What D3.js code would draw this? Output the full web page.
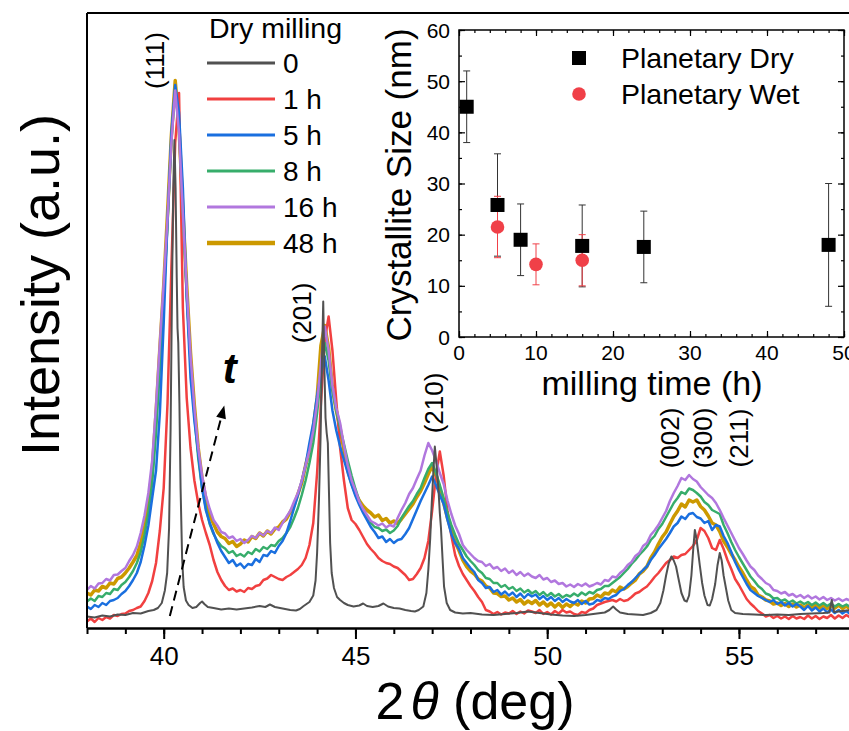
<!DOCTYPE html>
<html>
<head>
<meta charset="utf-8">
<script src="https://cdn.jsdelivr.net/npm/d3@7"></script>
<style>
  body { margin: 0; background: #fff; }
  svg { display: block; }
  text { font-family: "Liberation Sans", Arial, sans-serif; fill: #000; }
</style>
</head>
<body>
<svg id="chart" width="849" height="731"></svg>
<script>
// ---------- XRD patterns (2θ in degrees, intensity in arbitrary units) ----------
// Milled samples are sampled on a regular 0.1° grid starting at 38°.
const angleStart = 38;
const angleStep = 0.1;

// As-received powder: sharp reflections, listed as [2θ, intensity] pairs.
const pattern0h = [
  [38.0,2.3],[38.2,2.1],[38.4,2.5],[38.6,2.3],[38.8,2.7],[39.0,2.6],[39.2,3.0],[39.4,2.9],[39.6,3.4],[39.74,3.6],
  [39.85,4.0],[39.95,5.0],[40.03,7.5],[40.09,11],[40.14,20],[40.18,40],[40.22,70],[40.25,88],[40.28,97.6],[40.31,88],
  [40.34,70],[40.36,60],[40.38,57],[40.41,45],[40.44,28],[40.48,14],[40.52,8.2],[40.58,5.5],[40.65,4.6],[40.75,4.0],
  [40.85,4.2],[40.95,5.0],[41.0,5.3],[41.06,4.8],[41.15,4.2],[41.3,4.0],[41.5,3.7],[41.7,3.9],[41.9,3.7],[42.1,3.9],
  [42.3,4.1],[42.5,4.4],[42.65,4.2],[42.77,4.7],[42.9,4.2],[43.1,3.9],[43.3,3.6],[43.45,3.5],[43.55,3.8],[43.65,4.4],
  [43.8,5.2],[43.9,6.5],[43.96,9.5],[44.0,15],[44.05,26],[44.09,38],[44.13,55],[44.16,65.3],[44.19,52],[44.22,42],
  [44.25,39],[44.28,37],[44.31,27],[44.34,17],[44.38,11],[44.44,8],[44.52,6.2],[44.6,5.6],[44.7,5.0],[44.8,4.6],
  [44.95,4.3],[45.1,4.5],[45.2,4.9],[45.3,4.4],[45.45,4.2],[45.6,4.4],[45.73,4.9],[45.85,4.3],[46.0,4.0],[46.15,3.9],
  [46.3,3.6],[46.45,3.4],[46.55,3.3],[46.65,3.6],[46.77,4.3],[46.85,7],[46.9,11.6],[46.95,18],[46.99,25],[47.03,31],
  [47.07,36.3],[47.11,33],[47.16,28.3],[47.2,23],[47.23,20],[47.27,14],[47.31,8.3],[47.38,5.0],[47.47,3.6],[47.6,3.1],
  [47.8,2.9],[48.0,3.0],[48.3,2.7],[48.6,2.6],[48.9,2.8],[49.2,3.0],[49.5,3.3],[49.8,3.0],[50.1,2.7],[50.4,2.5],
  [50.7,2.4],[51.0,2.6],[51.3,2.9],[51.5,3.1],[51.62,3.6],[51.72,4.3],[51.8,3.7],[51.9,3.1],[52.1,2.8],[52.3,2.7],
  [52.5,2.6],[52.7,3.0],[52.85,3.6],[52.95,5.0],[53.03,7.5],[53.1,10.5],[53.17,13],[53.24,14.3],[53.3,13.5],[53.36,12.3],
  [53.42,10],[53.5,7],[53.58,5.5],[53.64,5.3],[53.7,6.5],[53.76,10.5],[53.81,16],[53.85,19.6],[53.89,18],[53.93,15.6],
  [53.98,12.5],[54.04,9.0],[54.1,6.5],[54.18,4.6],[54.24,4.5],[54.3,5.8],[54.38,8.8],[54.44,12.5],[54.5,15],[54.55,13.5],
  [54.6,10.5],[54.66,8.0],[54.72,5.5],[54.8,3.6],[54.9,3.0],[55.1,2.8],[55.4,2.7],[55.7,2.6],[56.0,2.7],[56.3,2.6],
  [56.6,2.8],[56.9,2.9],[57.2,3.0],[57.36,3.1],[57.42,5.6],[57.48,3.2],[57.6,3.3],[57.8,3.5],[58.0,3.6]
];

const pattern1h = [
  1.3,1.9,1.2,2.0,1.6,2.2,1.9,2.6,2.4,2.8, 2.9,3.4,3.6,4.0,4.3,5.4,7.0,9.4,13.0,19.5,
  28.0,45.0,72.0,97.0,107.0,64.0,46.0,36.0,29.5,25.0, 21.6,19.0,16.6,13.6,11.2,9.6,8.4,7.6,7.9,7.3,
  7.6,7.2,8.0,7.8,8.4,8.6,9.6,9.9,10.6,10.2, 9.8,9.6,10.2,10.6,11.2,11.8,12.6,14.0,16.6,21.0,
  31.0,45.0,57.6,62.3,55.5,45.5,36.0,29.5,24.0,21.6, 20.8,19.6,18.2,16.8,15.8,15.0,14.0,13.4,13.0,12.8,
  12.3,12.0,11.3,10.6,9.6,9.8,10.8,12.0,14.0,17.4, 23.5,30.5,35.3,30.5,23.5,18.5,14.6,12.4,10.8,9.6,
  8.4,7.4,6.2,5.2,3.6,3.3,2.8,3.2,2.7,3.1, 2.9,3.4,2.8,3.3,2.9,3.5,3.3,3.0,3.6,2.8,
  3.2,2.7,3.4,2.9,3.6,3.1,3.3,2.8,2.6,3.2, 3.0,3.6,3.9,4.6,4.9,5.2,5.4,5.6,5.3,5.8,
  5.4,5.6,6.2,6.9,7.2,7.8,8.3,9.2,10.2,11.0, 12.0,13.0,13.6,14.3,14.0,14.6,14.8,15.6,16.4,17.6,
  20.0,19.4,18.0,16.0,15.6,17.6,15.8,13.6,11.8,9.8, 8.6,7.2,5.8,4.9,4.2,3.4,2.9,2.3,2.6,2.0,
  2.4,1.9,2.3,1.8,2.4,1.9,2.2,1.8,2.5,1.9, 2.4,1.8,2.3,2.0,2.6,1.9,2.5,2.0,2.6,2.1,
  2.3
];

const pattern5h = [
  4.3,3.8,4.6,4.2,5.0,4.6,5.4,5.6,6.0,6.8, 7.4,8.4,9.6,11.0,13.2,16.5,20.5,26.0,31.5,43.0,
  61.0,81.5,99.0,108.6,103.0,88.0,66.0,50.0,41.5,35.0, 28.0,23.5,21.0,19.0,17.0,15.4,14.2,13.0,13.6,12.4,
  12.9,12.0,12.8,12.6,13.8,13.2,14.6,14.4,15.4,15.0, 16.4,17.4,19.0,21.4,24.0,26.6,29.4,32.6,37.0,41.0,
  46.5,51.0,54.3,49.5,43.5,39.5,36.3,33.6,31.0,28.6, 26.4,24.6,23.0,21.6,20.2,19.2,18.0,18.3,17.2,17.8,
  17.0,17.6,17.8,18.8,20.0,21.8,23.6,25.4,27.0,28.6, 30.3,28.6,26.6,24.8,21.6,18.8,17.0,15.8,14.0,13.0,
  12.0,11.2,9.6,9.0,8.0,8.2,7.2,7.6,6.7,7.3, 6.5,7.1,6.2,6.9,6.0,6.8,6.3,6.7,5.8,6.4,
  5.6,6.2,5.4,6.0,5.2,5.8,5.3,5.0,5.6,4.8, 5.4,4.7,4.9,5.6,5.4,6.0,5.8,6.3,6.6,7.4,
  7.8,8.6,9.2,10.0,10.8,11.6,12.3,13.6,14.6,15.8, 16.8,17.8,19.0,20.3,21.0,22.3,21.8,22.8,23.0,22.2,
  21.9,21.0,21.4,19.6,20.6,20.3,18.4,17.0,15.2,13.2, 11.6,10.2,8.8,7.6,7.0,6.4,6.0,5.6,5.2,5.6,
  4.8,5.2,4.5,5.0,4.3,4.8,4.3,3.6,4.4,3.5, 4.1,3.3,3.9,3.1,3.7,3.0,3.6,2.9,3.4,2.8,
  2.9
];

const pattern8h = [
  5.3,5.9,5.4,6.4,6.2,7.0,6.8,7.8,7.6,8.6, 9.2,10.2,11.4,13.0,15.2,18.6,23.0,29.0,39.0,52.0,
  66.0,81.0,97.5,108.0,100.0,83.0,67.0,53.0,42.5,34.0, 28.0,24.0,20.8,18.8,17.4,16.4,15.9,15.0,15.4,14.4,
  14.8,14.3,15.2,14.8,15.8,15.3,16.2,15.8,16.6,16.4, 17.4,18.0,19.0,20.2,22.0,24.0,26.6,29.5,33.0,37.0,
  43.0,50.5,57.0,53.5,47.5,43.5,40.0,36.8,33.5,30.5, 27.8,25.4,23.4,22.0,21.0,20.2,20.0,19.4,19.7,19.0,
  19.5,20.4,22.0,23.2,24.4,25.4,26.8,28.0,30.0,31.8, 33.0,31.0,28.6,26.0,23.0,20.6,18.6,16.8,15.6,14.3,
  13.4,12.6,11.6,11.0,10.0,9.8,9.0,9.0,8.2,8.6, 7.8,8.2,7.4,7.9,7.1,7.6,6.9,7.4,6.6,7.2,
  6.4,7.0,6.3,6.8,6.1,6.6,6.3,6.9,6.4,7.1, 6.6,7.2,6.9,7.6,7.8,8.4,8.4,9.0,9.6,10.2,
  11.0,11.8,12.8,13.6,14.6,15.4,16.3,17.6,18.4,19.8, 20.8,22.2,23.6,25.0,26.0,27.2,26.8,27.9,27.6,27.0,
  26.3,25.2,24.6,23.6,23.2,22.8,20.6,19.0,17.2,15.6, 14.2,12.9,11.6,10.3,9.4,8.4,7.8,6.9,6.6,5.9,
  6.0,5.4,5.7,5.1,5.5,4.9,5.3,4.8,5.2,4.6, 5.1,4.5,5.0,4.4,4.9,4.3,4.8,4.3,4.7,4.2,
  4.3
];

const pattern16h = [
  7.6,8.4,7.9,8.9,9.0,9.8,9.5,10.6,10.7,11.4, 12.0,13.4,14.6,16.3,19.0,22.5,27.0,33.5,44.5,57.0,
  69.0,82.0,97.0,107.5,99.0,83.0,68.0,54.5,44.0,36.0, 30.5,26.5,23.8,21.6,20.5,19.2,18.9,18.0,18.3,17.4,
  17.8,17.0,17.6,18.4,18.0,19.0,18.5,19.4,19.0,20.1, 19.6,21.0,22.2,23.4,25.3,27.0,29.5,32.5,35.5,39.5,
  45.0,53.0,60.3,55.5,48.5,44.0,41.0,36.5,32.5,29.5, 27.5,25.3,23.8,22.6,21.4,21.0,20.5,20.9,20.1,20.6,
  20.3,22.0,23.6,25.0,26.8,28.0,29.8,31.5,34.5,37.0, 35.5,33.5,31.0,28.8,25.5,22.8,20.5,18.8,16.6,15.6,
  14.8,14.0,13.4,13.2,12.4,12.8,11.9,12.2,11.4,11.9, 11.0,11.5,10.6,11.2,10.4,10.9,10.3,10.0,10.6,9.7,
  10.0,9.2,9.5,8.8,9.0,8.3,8.7,8.2,8.8,8.4, 8.9,8.3,8.6,9.0,8.7,9.6,9.4,10.3,10.1,11.0,
  11.6,12.6,13.2,14.4,15.0,16.4,17.0,18.6,19.5,20.6, 22.0,23.4,25.4,27.0,28.4,30.0,29.6,30.6,29.8,29.3,
  28.2,27.4,26.6,26.0,25.0,23.6,22.0,20.5,19.0,17.5, 16.0,14.8,13.5,12.3,11.6,10.5,9.8,9.0,8.6,7.6,
  7.4,6.9,7.2,6.5,6.8,6.2,6.6,6.0,6.5,5.9, 6.3,5.7,6.2,5.6,6.0,5.5,5.9,5.4,5.8,5.5,
  5.6
];

const pattern48h = [
  7.0,6.6,7.6,7.4,8.3,8.0,9.0,8.8,9.9,10.2, 11.0,12.0,13.2,14.5,17.0,20.5,25.0,31.5,43.0,56.0,
  68.5,83.0,98.5,109.5,100.0,83.5,68.5,55.0,44.5,36.0, 30.0,25.8,22.6,20.8,19.2,18.3,17.9,16.9,17.3,16.3,
  16.8,17.6,17.2,18.3,17.9,19.0,18.4,19.4,18.8,19.8, 20.2,21.2,21.8,23.2,24.5,26.8,29.0,32.5,35.5,40.0,
  46.0,56.5,60.5,56.0,48.0,43.5,40.0,35.5,31.5,29.0, 27.0,25.5,24.4,23.6,23.0,22.2,22.6,21.5,21.9,21.0,
  21.4,20.9,21.8,22.8,23.8,24.8,26.2,27.4,29.0,30.8, 32.3,30.5,27.8,25.0,22.0,19.4,17.2,15.5,13.6,12.3,
  11.4,10.8,9.8,9.4,8.4,8.0,7.0,6.9,6.3,6.4, 5.6,6.0,5.2,5.7,4.8,5.4,4.9,5.5,4.6,5.2,
  4.4,5.0,4.2,4.9,4.1,4.8,4.3,5.0,4.6,5.4, 5.0,5.8,5.9,6.6,6.2,7.0,6.8,7.6,7.2,8.2,
  7.8,8.3,9.0,9.6,10.8,11.4,12.3,14.0,15.2,16.8, 18.2,19.2,20.8,22.3,23.4,24.8,24.2,25.6,25.2,25.6,
  24.3,23.6,22.4,21.0,20.6,19.3,17.4,16.2,14.8,13.6, 12.2,11.0,9.6,8.3,7.8,6.6,6.2,5.6,5.4,4.8,
  5.0,4.5,4.9,4.3,4.8,4.2,4.6,4.0,4.6,4.1, 4.7,4.0,4.6,3.9,4.5,4.0,4.6,3.9,4.4,3.8,
  4.0
];

const seriesNames  = ["0", "1 h", "5 h", "8 h", "16 h", "48 h"];
const seriesColors = ["#515151", "#f14040", "#1a6fdf", "#37ad6b", "#b177de", "#cc9900"];
const seriesWidths = [2, 2.5, 2.5, 2.5, 2.5, 3.5];

const angleMajorTicks = [40, 45, 50, 55];
const angleMinorTicks = d3.range(38, 59, 1);

// Miller indices and the [2θ, intensity] point each label is centred on
const peakLabels  = ["(111)", "(201)", "(210)", "(002)", "(300)", "(211)"];
const peakAnchors = [[39.77, 113.5], [43.6, 63], [47.05, 45], [53.2, 38], [54.05, 38], [55.0, 38]];

// Milling-time arrow (dashed) and its label
const arrowFrom = [40.16, 2.4];
const arrowTo   = [41.58, 44.5];
const arrowLabelAt = [41.72, 49];

// ---------- Inset: crystallite size vs milling time ----------
const dryTime = [1, 5, 8, 16, 24, 48];
const drySize = [45, 25.8, 19, 17.8, 17.6, 18];
const dryErr  = [7, 10, 7, 8, 7, 12];
const wetTime = [5, 10, 16];
const wetSize = [21.5, 14.2, 15];
const wetErr  = [6, 4, 5];
const insetXTicks = [0, 10, 20, 30, 40, 50];
const insetYTicks = [0, 10, 20, 30, 40, 50, 60];

// ---------- layout ----------
const svg = d3.select("#chart");
const plot = { left: 87, right: 854, top: 13, bottom: 628 };

const x = d3.scaleLinear().domain([38, 58]).range([plot.left, plot.right]);
const y = d3.scaleLinear().domain([0, 123]).range([plot.bottom, plot.top]);

svg.append("defs").append("clipPath").attr("id", "plotClip")
  .append("rect").attr("x", plot.left).attr("y", plot.top)
  .attr("width", plot.right - plot.left).attr("height", plot.bottom - plot.top);

const gridSeries = arr => arr.map((v, i) => [angleStart + i * angleStep, v]);
const patterns = [pattern0h, gridSeries(pattern1h), gridSeries(pattern5h),
                  gridSeries(pattern8h), gridSeries(pattern16h), gridSeries(pattern48h)];

const line = d3.line().x(d => x(d[0])).y(d => y(d[1]));

// back-to-front drawing order: 48 h, 1 h, 8 h, 5 h, 16 h, 0
const drawOrder = [5, 1, 3, 2, 4, 0];
const curves = svg.append("g").attr("clip-path", "url(#plotClip)");
drawOrder.forEach(k => {
  curves.append("path")
    .attr("d", line(patterns[k]))
    .attr("fill", "none")
    .attr("stroke", seriesColors[k])
    .attr("stroke-width", seriesWidths[k])
    .attr("stroke-linejoin", "round");
});

// frame: left and top edges
svg.append("line").attr("x1", plot.left).attr("x2", plot.left)
  .attr("y1", plot.top).attr("y2", plot.bottom).attr("stroke", "#000").attr("stroke-width", 2);
svg.append("line").attr("x1", plot.left).attr("x2", plot.right)
  .attr("y1", plot.top).attr("y2", plot.top).attr("stroke", "#000").attr("stroke-width", 2);

// bottom axis with minor ticks
const minorAxis = svg.append("g").attr("transform", `translate(0,${plot.bottom})`)
  .call(d3.axisBottom(x).tickValues(angleMinorTicks).tickSize(6).tickFormat(""));
minorAxis.select(".domain").remove();
minorAxis.selectAll("line").attr("stroke-width", 2);

const majorAxis = svg.append("g").attr("transform", `translate(0,${plot.bottom})`)
  .call(d3.axisBottom(x).tickValues(angleMajorTicks).tickSize(11).tickPadding(8).tickSizeOuter(0));
majorAxis.select(".domain").attr("stroke-width", 2.5);
majorAxis.selectAll("line").attr("stroke-width", 2);
majorAxis.selectAll("text").attr("font-size", 26).attr("font-family", "Liberation Sans, Arial, sans-serif").attr("fill", "#000");

// axis titles
const xTitle = svg.append("text").attr("x", 475).attr("y", 719)
  .attr("text-anchor", "middle").attr("font-size", 52);
xTitle.append("tspan").text("2");
xTitle.append("tspan").attr("font-style", "italic").attr("dx", 6).text("θ");
xTitle.append("tspan").text(" (deg)");

svg.append("text")
  .attr("transform", "translate(40,285) rotate(-90)")
  .attr("text-anchor", "middle").attr("dominant-baseline", "central")
  .attr("font-size", 54).text("Intensity (a.u.)");

// peak labels
peakLabels.forEach((lab, i) => {
  svg.append("text")
    .attr("transform", `translate(${x(peakAnchors[i][0])},${y(peakAnchors[i][1])}) rotate(-90)`)
    .attr("text-anchor", "middle").attr("dominant-baseline", "central")
    .attr("font-size", 26).text(lab);
});

// milling-time arrow
const ax1 = x(arrowFrom[0]), ay1 = y(arrowFrom[1]), ax2 = x(arrowTo[0]), ay2 = y(arrowTo[1]);
const ang = Math.atan2(ay2 - ay1, ax2 - ax1);
const headLen = 13, headHalf = 5;
const bx = ax2 - headLen * Math.cos(ang), by = ay2 - headLen * Math.sin(ang);
svg.append("line").attr("x1", ax1).attr("y1", ay1).attr("x2", bx).attr("y2", by)
  .attr("stroke", "#000").attr("stroke-width", 2).attr("stroke-dasharray", "10,6");
svg.append("path")
  .attr("d", `M${ax2},${ay2}L${bx + headHalf * Math.sin(ang)},${by - headHalf * Math.cos(ang)}L${bx - headHalf * Math.sin(ang)},${by + headHalf * Math.cos(ang)}Z`)
  .attr("fill", "#000");
svg.append("text").attr("x", x(arrowLabelAt[0])).attr("y", y(arrowLabelAt[1]))
  .attr("text-anchor", "middle").attr("font-size", 42).attr("font-style", "italic")
  .attr("font-weight", "bold").text("t");

// legend
const legend = svg.append("g");
legend.append("text").attr("x", 209).attr("y", 38).attr("font-size", 28.5).text("Dry milling");
seriesNames.forEach((name, i) => {
  const ly = 63 + i * 36;
  legend.append("line").attr("x1", 207).attr("x2", 275).attr("y1", ly).attr("y2", ly)
    .attr("stroke", seriesColors[i]).attr("stroke-width", i === 5 ? 4.5 : 3);
  legend.append("text").attr("x", 283).attr("y", ly).attr("dominant-baseline", "central")
    .attr("font-size", 28).text(name);
});

// ---------- inset ----------
const ins = { left: 459, right: 844, top: 30, bottom: 337 };
const ix = d3.scaleLinear().domain([0, 50]).range([ins.left, ins.right]);
const iy = d3.scaleLinear().domain([0, 60]).range([ins.bottom, ins.top]);
const inset = svg.append("g");

inset.append("rect").attr("x", ins.left).attr("y", ins.top)
  .attr("width", ins.right - ins.left).attr("height", ins.bottom - ins.top)
  .attr("fill", "#fff");

function insetTicks(axisFn, scale, values, size, translate) {
  const g = inset.append("g").attr("transform", translate)
    .call(axisFn(scale).tickValues(values).tickSize(size).tickFormat(""));
  g.select(".domain").remove();
  g.selectAll("line").attr("stroke-width", 1.2);
}
const ixMinor = d3.range(0, 51, 2), iyMinor = d3.range(0, 61, 5);
// inward ticks on all four sides
insetTicks(d3.axisTop, ix, ixMinor, 3, `translate(0,${ins.bottom})`);
insetTicks(d3.axisTop, ix, insetXTicks, 6, `translate(0,${ins.bottom})`);
insetTicks(d3.axisBottom, ix, ixMinor, 3, `translate(0,${ins.top})`);
insetTicks(d3.axisBottom, ix, insetXTicks, 6, `translate(0,${ins.top})`);
insetTicks(d3.axisRight, iy, iyMinor, 3, `translate(${ins.left},0)`);
insetTicks(d3.axisRight, iy, insetYTicks, 6, `translate(${ins.left},0)`);
insetTicks(d3.axisLeft, iy, iyMinor, 3, `translate(${ins.right},0)`);
insetTicks(d3.axisLeft, iy, insetYTicks, 6, `translate(${ins.right},0)`);

inset.append("rect").attr("x", ins.left).attr("y", ins.top)
  .attr("width", ins.right - ins.left).attr("height", ins.bottom - ins.top)
  .attr("fill", "none").attr("stroke", "#000").attr("stroke-width", 1.5);

insetXTicks.forEach(v => {
  inset.append("text").attr("x", ix(v)).attr("y", ins.bottom + 15)
    .attr("text-anchor", "middle").attr("dominant-baseline", "central")
    .attr("font-size", 21).text(v);
});
insetYTicks.forEach(v => {
  inset.append("text").attr("x", ins.left - 9).attr("y", iy(v))
    .attr("text-anchor", "end").attr("dominant-baseline", "central")
    .attr("font-size", 21).text(v);
});

inset.append("text").attr("x", 652).attr("y", 395).attr("text-anchor", "middle")
  .attr("font-size", 34).text("milling time (h)");
inset.append("text").attr("transform", "translate(398,185) rotate(-90)")
  .attr("text-anchor", "middle").attr("dominant-baseline", "central")
  .attr("font-size", 35).text("Crystallite Size (nm)");

function errorBars(times, sizes, errs, color) {
  times.forEach((t, i) => {
    const cx = ix(t), top = iy(sizes[i] + errs[i]), bot = iy(sizes[i] - errs[i]);
    inset.append("line").attr("x1", cx).attr("x2", cx).attr("y1", top).attr("y2", bot)
      .attr("stroke", color).attr("stroke-width", 1);
    [top, bot].forEach(yy => inset.append("line")
      .attr("x1", cx - 3.5).attr("x2", cx + 3.5).attr("y1", yy).attr("y2", yy)
      .attr("stroke", color).attr("stroke-width", 1));
  });
}
errorBars(dryTime, drySize, dryErr, "#333");
errorBars(wetTime, wetSize, wetErr, "#f04048");

dryTime.forEach((t, i) => {
  inset.append("rect").attr("x", ix(t) - 7).attr("y", iy(drySize[i]) - 7)
    .attr("width", 14).attr("height", 14).attr("fill", "#000");
});
wetTime.forEach((t, i) => {
  inset.append("circle").attr("cx", ix(t)).attr("cy", iy(wetSize[i])).attr("r", 6.8)
    .attr("fill", "#f04048");
});

// inset legend
inset.append("rect").attr("x", 572).attr("y", 51).attr("width", 14).attr("height", 14).attr("fill", "#000");
inset.append("text").attr("x", 621).attr("y", 58).attr("dominant-baseline", "central")
  .attr("font-size", 28.5).text("Planetary Dry");
inset.append("circle").attr("cx", 579).attr("cy", 94).attr("r", 6.8).attr("fill", "#f04048");
inset.append("text").attr("x", 621).attr("y", 94).attr("dominant-baseline", "central")
  .attr("font-size", 28.5).text("Planetary Wet");
</script>
</body>
</html>
